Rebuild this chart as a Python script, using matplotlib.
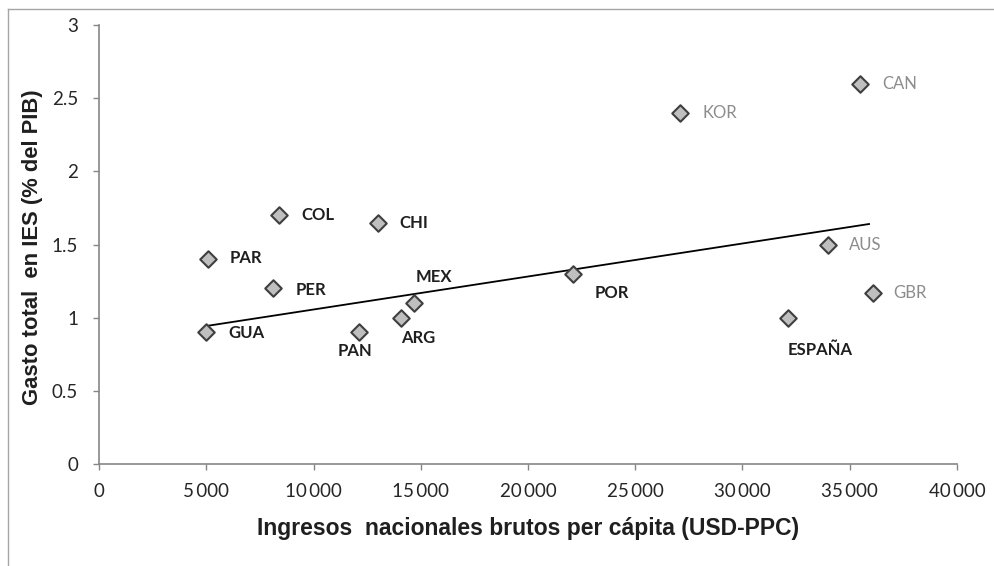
import matplotlib
matplotlib.use("Agg")
import matplotlib.pyplot as plt
from matplotlib.lines import Line2D

# ---- data ----
countries = ["GUA", "PAR", "PER", "COL", "CHI", "PAN", "ARG", "MEX", "POR",
             "KOR", "CAN", "AUS", "GBR", "ESPAÑA"]
gni = [5000, 5100, 8100, 8400, 13000, 12100, 14100, 14700, 22100,
       27100, 35500, 34000, 36100, 32100]
spend = [0.90, 1.40, 1.20, 1.70, 1.65, 0.90, 1.00, 1.10, 1.30,
         2.40, 2.60, 1.50, 1.17, 1.00]
oecd_group = ["KOR", "CAN", "AUS", "GBR"]
trend_x = [5000, 35900]
trend_y = [0.943, 1.64]
x_ticks = [0, 5000, 10000, 15000, 20000, 25000, 30000, 35000, 40000]
y_ticks = [0, 0.5, 1, 1.5, 2, 2.5, 3]
x_title = "Ingresos  nacionales brutos per cápita (USD-PPC)"
y_title = "Gasto total  en IES (% del PIB)"

# ---- layout (label offsets in pixels) ----
offsets = {
    "GUA": (22, -1), "PAR": (21, 1), "PER": (23, -2), "COL": (22, 0),
    "CHI": (22, 0), "PAN": (-21, -19), "ARG": (0, -20), "MEX": (1, 26),
    "POR": (22, -19), "KOR": (22, 0), "CAN": (22, 0), "AUS": (21, 0),
    "GBR": (20, 0), "ESPAÑA": (0, -32),
}

W, H = 995, 566
fig = plt.figure(figsize=(W / 100, H / 100), dpi=100)
ax = fig.add_axes([99 / W, (H - 464) / H, (957 - 99) / W, (464 - 25) / H])

gray_axis = "#868686"
ax.plot(trend_x, trend_y, color="black", lw=1.3, zorder=2)
ax.scatter(gni, spend, marker="D", s=8.4 ** 2, facecolor="#bfbfbf",
           edgecolor="#3f3f3f", linewidths=1.5, zorder=3)

for c, x, y in zip(countries, gni, spend):
    dx, dy = offsets[c]
    if c in oecd_group:
        color, weight = "#8c8c8c", "normal"
    else:
        color, weight = "#1f1f1f", "bold"
    ax.annotate(c, (x, y), xytext=(dx, dy), textcoords="offset pixels",
                ha="left", va="center", fontsize=12, family="Lato",
                color=color, fontweight=weight, zorder=4)

ax.set_xlim(0, 40000)
ax.set_ylim(0, 3)
ax.set_xticks(x_ticks)
ax.set_xticklabels([f"{v:,}".replace(",", "\u2009") for v in x_ticks],
                   family="Lato", fontsize=13.5, color="#262626")
ax.set_yticks(y_ticks)
ax.set_yticklabels([f"{v:g}" for v in y_ticks], family="Lato", fontsize=13.5,
                   color="#262626")
ax.tick_params(axis="both", direction="out", length=4.5, width=1,
               color=gray_axis)
ax.tick_params(axis="x", pad=9)
ax.tick_params(axis="y", pad=10.5)
for s in ["top", "right"]:
    ax.spines[s].set_visible(False)
for s in ["left", "bottom"]:
    ax.spines[s].set_color(gray_axis)
    ax.spines[s].set_linewidth(1.2)

fig.text(528 / W, 1 - 529 / H, x_title, ha="center", va="center",
         fontsize=16.5, fontweight="bold", color="#1f1f1f",
         family=["Liberation Sans Narrow", "Liberation Sans"])
fig.text(33 / W, 1 - 247 / H, y_title, ha="center", va="center",
         rotation=90, fontsize=15.8, fontweight="bold", color="#1f1f1f",
         family="Liberation Sans")

# figure frame (left and top edges visible)
fig.add_artist(Line2D([8 / W, 8 / W], [0, 1 - 9 / H], color="#a6a6a6",
                      lw=1, transform=fig.transFigure))
fig.add_artist(Line2D([8 / W, 1], [1 - 9 / H, 1 - 9 / H], color="#a6a6a6",
                      lw=1, transform=fig.transFigure))

fig.savefig("out.png", dpi=100)
